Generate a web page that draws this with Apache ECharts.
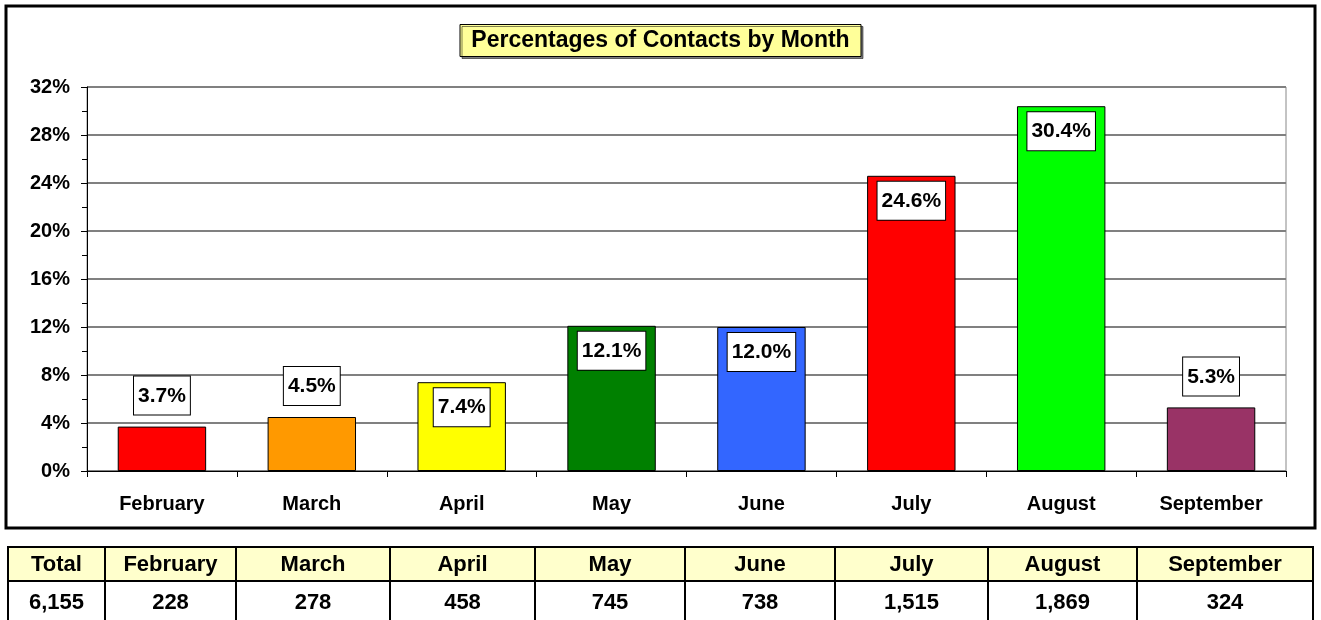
<!DOCTYPE html>
<html>
<head>
<meta charset="utf-8">
<script src="https://cdn.jsdelivr.net/npm/echarts@6/dist/echarts.min.js"></script>
<style>
  html, body { margin: 0; padding: 0; background: #fff; }
  #chart { width: 1321px; height: 620px; }
</style>
</head>
<body>
<div id="chart"></div>
<script>
// chart data
var months = ['February', 'March', 'April', 'May', 'June', 'July', 'August', 'September'];
var percents = [3.7, 4.5, 7.4, 12.1, 12.0, 24.6, 30.4, 5.3];
var counts = ['228', '278', '458', '745', '738', '1,515', '1,869', '324'];
var totalLabel = 'Total';
var totalCount = '6,155';
var barColors = ['#FF0000', '#FF9900', '#FFFF00', '#008000', '#3366FF', '#FF0000', '#00FF00', '#993366'];

var FONT = 'Arial, "Liberation Sans", sans-serif';

var chart = echarts.init(document.getElementById('chart'));

// table below the chart
var colEdges = [8, 105, 236, 390, 535, 685, 835, 988, 1137, 1313];
var headRow = [totalLabel].concat(months);
var bodyRow = [totalCount].concat(counts);
var tableEls = [];
for (var i = 0; i < headRow.length; i++) {
  var x0 = colEdges[i], x1 = colEdges[i + 1];
  tableEls.push({
    type: 'rect',
    shape: { x: x0, y: 547, width: x1 - x0, height: 34 },
    style: { fill: '#FFFFCC', stroke: '#000', lineWidth: 2 }
  });
  tableEls.push({
    type: 'rect',
    shape: { x: x0, y: 581, width: x1 - x0, height: 45 },
    style: { fill: '#FFFFFF', stroke: '#000', lineWidth: 2 }
  });
  tableEls.push({
    type: 'text',
    style: {
      text: headRow[i], x: (x0 + x1) / 2, y: 565,
      textAlign: 'center', textVerticalAlign: 'middle',
      font: 'bold 22px ' + FONT, fill: '#000'
    }
  });
  tableEls.push({
    type: 'text',
    style: {
      text: bodyRow[i], x: (x0 + x1) / 2, y: 603,
      textAlign: 'center', textVerticalAlign: 'middle',
      font: 'bold 22px ' + FONT, fill: '#000'
    }
  });
}

var barData = percents.map(function (v, i) {
  return {
    value: v,
    itemStyle: { color: barColors[i] },
    label: { position: v < 7 ? 'top' : 'insideTop', distance: v < 7 ? 12 : 6 }
  };
});

chart.setOption({
  animation: false,
  backgroundColor: '#fff',
  title: {
    text: 'Percentages of Contacts by Month',
    left: 'center',
    top: 24,
    padding: [5, 12],
    backgroundColor: '#FFFF99',
    borderColor: '#000',
    borderWidth: 1,
    shadowColor: 'rgba(0,0,0,0.5)',
    shadowOffsetX: 2,
    shadowOffsetY: 2,
    textStyle: { fontFamily: FONT, fontSize: 23, fontWeight: 'bold', color: '#000' }
  },
  grid: {
    left: 87, right: 35, top: 87, bottom: 149,
    show: true, borderColor: '#888', borderWidth: 1
  },
  xAxis: {
    type: 'category',
    data: months,
    axisLine: { lineStyle: { color: '#000', width: 1 } },
    axisTick: { show: true, length: 6, lineStyle: { color: '#000' } },
    axisLabel: { margin: 23, color: '#000', fontFamily: FONT, fontSize: 20, fontWeight: 'bold' }
  },
  yAxis: {
    type: 'value',
    min: 0, max: 32, interval: 4,
    axisLine: { show: true, lineStyle: { color: '#000', width: 1 } },
    axisTick: { show: true, length: 6, lineStyle: { color: '#000' } },
    minorTick: { show: true, splitNumber: 2, length: 5, lineStyle: { color: '#000' } },
    splitLine: { lineStyle: { color: '#808080', width: 2 } },
    axisLabel: {
      formatter: '{value}%', margin: 17, color: '#000',
      fontFamily: FONT, fontSize: 20, fontWeight: 'bold'
    }
  },
  series: [{
    type: 'bar',
    data: barData,
    barWidth: '59%',
    itemStyle: { borderColor: '#000', borderWidth: 1 },
    label: {
      show: true,
      formatter: function (p) { return p.value.toFixed(1) + '%'; },
      backgroundColor: '#fff',
      borderColor: '#000',
      borderWidth: 1,
      padding: [9, 4, 8, 4],
      color: '#000',
      fontFamily: FONT,
      fontSize: 21,
      fontWeight: 'bold'
    }
  }],
  graphic: [{
    type: 'rect',
    shape: { x: 6, y: 6, width: 1309, height: 522 },
    style: { fill: 'none', stroke: '#000', lineWidth: 3 },
    z: 100
  }].concat(tableEls)
});
</script>
</body>
</html>
